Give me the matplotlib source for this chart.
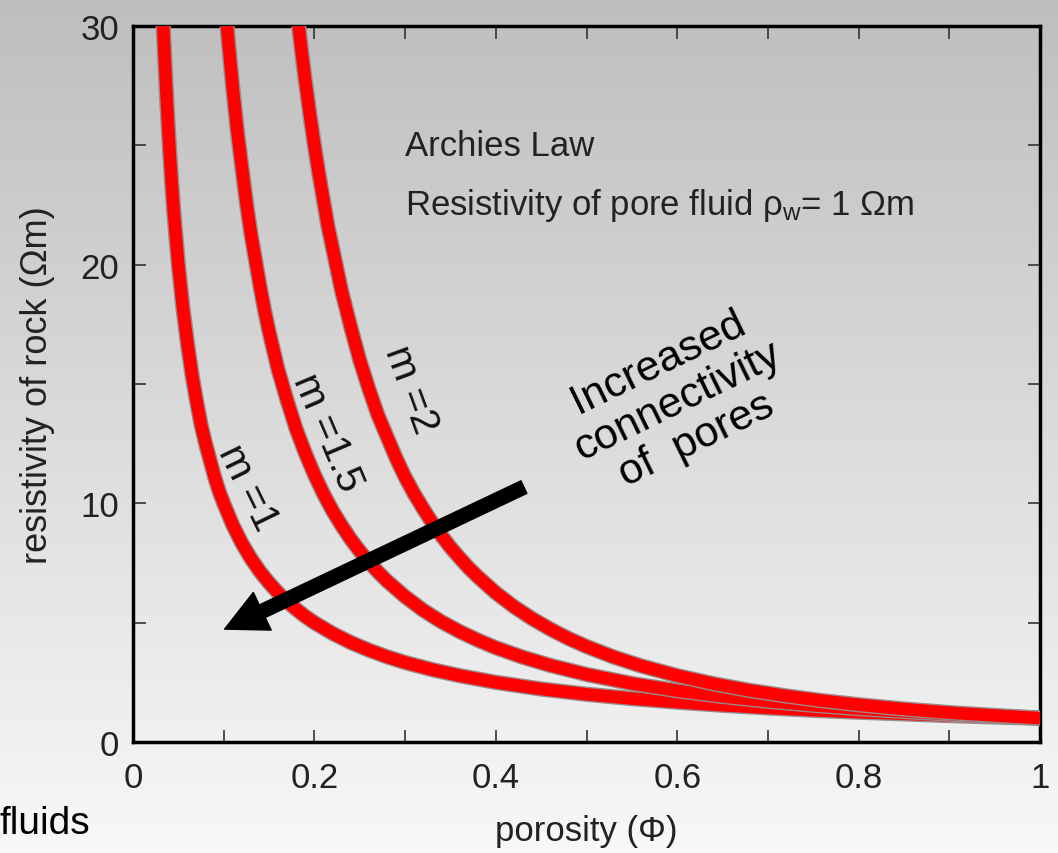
import numpy as np
import matplotlib
matplotlib.use("Agg")
import matplotlib.pyplot as plt
import matplotlib.patheffects as pe
from matplotlib.patches import FancyArrowPatch, ArrowStyle
from matplotlib.colors import LinearSegmentedColormap

plt.rcParams['font.family'] = ['Liberation Sans', 'DejaVu Sans']

# porosity / resistivity values
phi_m1 = [0.0333, 0.035, 0.0375, 0.04, 0.0425, 0.045, 0.0475, 0.05, 0.055, 0.06, 0.065, 0.07,
          0.075, 0.08, 0.085, 0.09, 0.095, 0.10, 0.11, 0.12, 0.13, 0.14, 0.15, 0.16, 0.17,
          0.18, 0.19, 0.20, 0.22, 0.24, 0.26, 0.28, 0.30, 0.33, 0.36, 0.40, 0.45, 0.50, 0.55,
          0.60, 0.65, 0.70, 0.75, 0.80, 0.85, 0.90, 0.95, 1.00]
rho_m1 = [30.0, 28.6, 26.7, 25.0, 23.5, 22.2, 21.1, 20.0, 18.2, 16.7, 15.4, 14.3,
          13.3, 12.5, 11.8, 11.1, 10.5, 10.0, 9.09, 8.33, 7.69, 7.14, 6.67, 6.25, 5.88,
          5.56, 5.26, 5.00, 4.55, 4.17, 3.85, 3.57, 3.33, 3.03, 2.78, 2.50, 2.22, 2.00, 1.82,
          1.67, 1.54, 1.43, 1.33, 1.25, 1.18, 1.11, 1.05, 1.00]

phi_m15 = [0.1036, 0.107, 0.11, 0.115, 0.12, 0.125, 0.13, 0.135, 0.14, 0.145, 0.15, 0.16,
           0.17, 0.18, 0.19, 0.20, 0.21, 0.22, 0.23, 0.24, 0.25, 0.26, 0.27, 0.28, 0.30,
           0.32, 0.34, 0.36, 0.38, 0.40, 0.43, 0.46, 0.50, 0.55, 0.60, 0.65, 0.70, 0.75,
           0.80, 0.85, 0.90, 0.95, 1.00]
rho_m15 = [30.0, 28.6, 27.4, 25.6, 24.1, 22.6, 21.3, 20.2, 19.1, 18.1, 17.2, 15.6,
           14.3, 13.1, 12.1, 11.2, 10.4, 9.69, 9.07, 8.50, 8.00, 7.54, 7.13, 6.75, 6.09,
           5.52, 5.04, 4.63, 4.27, 3.95, 3.55, 3.21, 2.83, 2.45, 2.15, 1.91, 1.71, 1.54,
           1.40, 1.28, 1.17, 1.08, 1.00]

phi_m2 = [0.1826, 0.186, 0.19, 0.195, 0.20, 0.205, 0.21, 0.215, 0.22, 0.23, 0.24, 0.25,
          0.26, 0.27, 0.28, 0.29, 0.30, 0.31, 0.32, 0.33, 0.34, 0.35, 0.36, 0.37, 0.38,
          0.40, 0.42, 0.44, 0.46, 0.48, 0.50, 0.53, 0.56, 0.60, 0.64, 0.68, 0.72, 0.76,
          0.80, 0.85, 0.90, 0.95, 1.00]
rho_m2 = [30.0, 28.9, 27.7, 26.3, 25.0, 23.8, 22.7, 21.6, 20.7, 18.9, 17.4, 16.0,
          14.8, 13.7, 12.8, 11.9, 11.1, 10.4, 9.77, 9.18, 8.65, 8.16, 7.72, 7.30, 6.93,
          6.25, 5.67, 5.17, 4.73, 4.34, 4.00, 3.56, 3.19, 2.78, 2.44, 2.16, 1.93, 1.73,
          1.56, 1.38, 1.23, 1.11, 1.00]

xticks = [0, 0.1, 0.2, 0.3, 0.4, 0.5, 0.6, 0.7, 0.8, 0.9, 1.0]
xticklabels = ['0', '', '0.2', '', '0.4', '', '0.6', '', '0.8', '', '1']
yticks = [0, 5, 10, 15, 20, 25, 30]
yticklabels = ['0', '', '10', '', '20', '', '30']

fig = plt.figure(figsize=(10.58, 8.54), dpi=100)

# background gradient
bg = fig.add_axes([0, 0, 1, 1], zorder=-10)
grad = np.linspace(0, 1, 256).reshape(-1, 1)
cmap = LinearSegmentedColormap.from_list('g', ['#bebebe', '#f8f8f8'])
bg.imshow(grad, aspect='auto', cmap=cmap, extent=[0, 1, 0, 1], origin='upper')
bg.set_axis_off()

ax = fig.add_axes([133/1058, 1 - 743/854, (1040-133)/1058, (743-27)/854])
ax.set_facecolor('none')
ax.set_xlim(0, 1)
ax.set_ylim(0, 30)

for sp in ax.spines.values():
    sp.set_linewidth(2.5)
    sp.set_color('black')

ax.set_xticks(xticks)
ax.set_xticklabels(xticklabels)
ax.set_yticks(yticks)
ax.set_yticklabels(yticklabels)
ax.tick_params(direction='in', length=9, width=1.2, color='#333333', labelsize=25,
               top=True, right=True, labelcolor='#222222')
ax.tick_params(axis='x', pad=14)
ax.tick_params(axis='y', pad=10)

ax.set_xlabel('porosity (Φ)', fontsize=25, color='#222222', labelpad=14)
ax.set_ylabel('resistivity of rock (Ωm)', fontsize=26, color='#222222', labelpad=18)

stroke = [pe.Stroke(linewidth=11, foreground='#9a8a8a'), pe.Normal()]
for px, ry in [(phi_m1, rho_m1), (phi_m15, rho_m15), (phi_m2, rho_m2)]:
    ax.plot(px, ry, color='#ff0000', lw=9, solid_capstyle='butt', solid_joinstyle='round',
            path_effects=stroke, clip_on=True, zorder=3)

# arrow
arr = FancyArrowPatch((0.431, 10.68), (0.101, 4.73),
                      arrowstyle=ArrowStyle('Simple', head_length=30, head_width=30, tail_width=10),
                      color='black', mutation_scale=1, zorder=5, shrinkA=0, shrinkB=0)
ax.add_patch(arr)

ax.text(0.3, 25.0, 'Archies Law', fontsize=25, color='#222222', ha='left', va='center')
ax.text(0.3, 22.5, r'Resistivity of pore fluid $\mathregular{ρ_w}$= 1 Ωm', fontsize=25,
        color='#222222', ha='left', va='center')

ax.text(0.3065, 14.8, 'm =2', fontsize=29, rotation=-70, ha='center', va='center', color='#111111')
ax.text(0.214, 13.0, 'm =1.5', fontsize=29, rotation=-67, ha='center', va='center', color='#111111')
ax.text(0.127, 10.7, 'm =1', fontsize=29, rotation=-64, ha='center', va='center', color='#111111')

ax.text(0.600, 14.3, 'Increased\nconnectivity\nof  pores', fontsize=31, rotation=26,
        ha='center', va='center', color='black', linespacing=1.1, rotation_mode='anchor',
        multialignment='center')

fig.text(0.0, 12/854, 'fluids', fontsize=28, ha='left', va='bottom', color='black')

fig.savefig('out.png', dpi=100)
